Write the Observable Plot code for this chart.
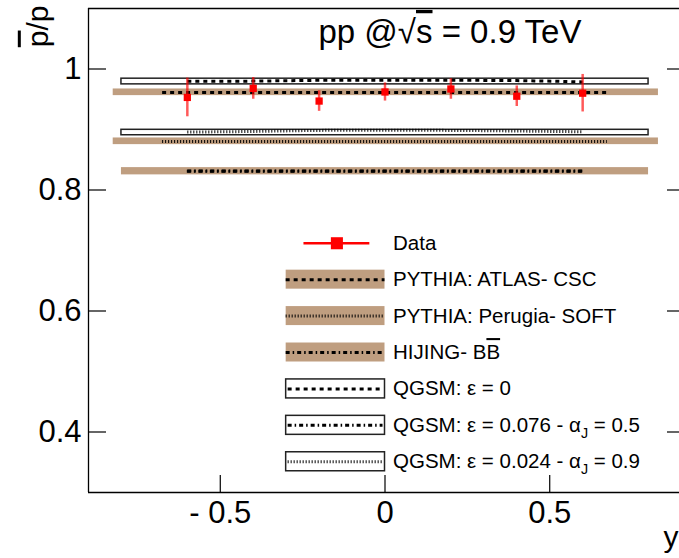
<!DOCTYPE html>
<html><head><meta charset="utf-8">
<script src="https://cdn.jsdelivr.net/npm/d3@7"></script>
<script src="https://cdn.jsdelivr.net/npm/@observablehq/plot@0.6"></script>
<style>
html,body{margin:0;padding:0;background:#fff;overflow:hidden}
svg{display:block;overflow:hidden}
</style>
</head><body><div id="chart"></div>
<script>
// ---- data ----
const xTicks = [-0.5, 0, 0.5];
const yTicks = [0.4, 0.6, 0.8, 1];

// measured p-bar/p vs rapidity
const rap = [-0.6, -0.4, -0.2, 0, 0.2, 0.4, 0.6];
const ratio = [0.953, 0.968, 0.947, 0.962, 0.967, 0.955, 0.960];
const ratioErr = [0.032, 0.018, 0.017, 0.015, 0.017, 0.017, 0.031];

// event generators (bands + central line)
const genNames = ["PYTHIA: ATLAS- CSC", "PYTHIA: Perugia- SOFT", "HIJING- B~{B}"];
const genValue = [0.961, 0.880, 0.831];
const genLo = [0.956, 0.875, 0.825];
const genHi = [0.967, 0.886, 0.837];
const genBandFrom = [-0.825, -0.825, -0.8];
const genBandTo = [0.83, 0.83, 0.8];
const genLineFrom = [-0.675, -0.675, -0.6];
const genLineTo = [0.675, 0.675, 0.6];

// QGSM calculations
const qgsmNames = ["QGSM: ε = 0", "QGSM: ε = 0.076 - α_{J} = 0.5", "QGSM: ε = 0.024 - α_{J} = 0.9"];
const qgsmRap = [-0.6, -0.4, -0.2, 0, 0.2, 0.4, 0.6];
const qgsmEps0 = [0.9797, 0.9800, 0.9813, 0.9815, 0.9813, 0.9808, 0.9787];
const qgsmEps076 = [0.8314, 0.8314, 0.8314, 0.8314, 0.8314, 0.8314, 0.8314];
const qgsmEps024 = [0.8958, 0.8968, 0.8985, 0.8987, 0.8985, 0.8975, 0.8962];
// open boxes visible in the frame (ε = 0 and ε = 0.024; the ε = 0.076 one lies under the HIJING band)
const qgsmBoxLo = [0.9746, 0.8905];
const qgsmBoxHi = [0.9840, 0.8995];
const qgsmBoxFrom = [-0.8, -0.8];
const qgsmBoxTo = [0.8, 0.8];

// ---- styles ----
const tan = "#bf9e80";
const genDash = ["4,4", "1,2", "4,3,1.5,3"];
const qgsmDash = ["4,4", "4,3,1.5,3", "1,2"];
const qgsmCurves = [qgsmEps0, qgsmEps076, qgsmEps024];

const W = 679, H = 558, mL = 88, mT = 8, mB = 66, mR = 0;
const fw = W - mL - mR, fh = H - mT - mB;

const marks = [];
const idx3 = [0, 1, 2];

// QGSM boxes (open)
marks.push(Plot.rect([0, 1], {
  x1: i => qgsmBoxFrom[i], x2: i => qgsmBoxTo[i],
  y1: i => qgsmBoxLo[i], y2: i => qgsmBoxHi[i],
  fill: "#fff", stroke: "#222", strokeWidth: 1.5
}));
// generator bands
marks.push(Plot.rect(idx3, {
  x1: i => genBandFrom[i], x2: i => genBandTo[i],
  y1: i => genLo[i], y2: i => genHi[i],
  fill: tan
}));
// generator central lines
idx3.forEach(k => {
  marks.push(Plot.ruleY([k], {
    y: i => genValue[i], x1: i => genLineFrom[i], x2: i => genLineTo[i],
    stroke: "#000", strokeWidth: 3, strokeDasharray: genDash[k], strokeLinecap: "butt"
  }));
});
// QGSM curves
idx3.forEach(k => {
  marks.push(Plot.line(qgsmRap, {
    x: d => d, y: (d, i) => qgsmCurves[k][i], curve: "natural",
    stroke: "#000", strokeWidth: 3, strokeDasharray: qgsmDash[k], strokeLinecap: "butt"
  }));
});
// data
marks.push(Plot.ruleX(rap, {
  x: d => d, y1: (d, i) => ratio[i] - ratioErr[i], y2: (d, i) => ratio[i] + ratioErr[i],
  stroke: "red", strokeOpacity: 0.65, strokeWidth: 2.5
}));
marks.push(Plot.dot(rap, {x: d => d, y: (d, i) => ratio[i], symbol: "square", r: 4.1, fill: "red"}));

// frame & ticks
marks.push(Plot.ruleX([-0.9], {x: d => d, stroke: "#000", strokeWidth: 1.3}));
marks.push(Plot.ruleY([0.3, 1.1], {y: d => d, stroke: "#000", strokeWidth: 1.3}));
marks.push(Plot.tickY(yTicks, {y: d => d, insetRight: fw - 18, stroke: "#000", strokeWidth: 1.2}));
marks.push(Plot.tickY(yTicks, {y: d => d, insetLeft: fw - 12, stroke: "#000", strokeWidth: 1.2}));
marks.push(Plot.tickX(xTicks, {x: d => d, insetTop: fh - 17, stroke: "#000", strokeWidth: 1.2}));

// ---- legend (in data coordinates) ----
const legTop = 0.712, legStep = 0.0602, legHalf = 0.0157;
const legX1 = -0.3, legX2 = 0.0;
const rowY = i => legTop - i * legStep;
// Data row
marks.push(Plot.ruleY([0], {y: rowY, x1: -0.246, x2: -0.046, stroke: "red", strokeWidth: 2.5}));
marks.push(Plot.dot([0], {x: () => -0.146, y: rowY, symbol: "square", r: 6.8, fill: "red"}));
// generator rows
idx3.forEach(k => {
  marks.push(Plot.rect([k], {x1: () => legX1, x2: () => legX2,
    y1: i => rowY(i + 1) - legHalf, y2: i => rowY(i + 1) + legHalf, fill: tan}));
  marks.push(Plot.ruleY([k], {y: i => rowY(i + 1), x1: () => legX1, x2: () => legX2,
    stroke: "#000", strokeWidth: 3, strokeDasharray: genDash[k], strokeLinecap: "butt"}));
});
// QGSM rows
idx3.forEach(k => {
  marks.push(Plot.rect([k], {x1: () => legX1, x2: () => legX2,
    y1: i => rowY(i + 4) - legHalf, y2: i => rowY(i + 4) + legHalf, fill: "#fff", stroke: "#222", strokeWidth: 1.5}));
  marks.push(Plot.ruleY([k], {y: i => rowY(i + 4), x1: () => legX1 + 0.006, x2: () => legX2 - 0.006,
    stroke: "#000", strokeWidth: 3, strokeDasharray: qgsmDash[k], strokeLinecap: "butt"}));
});
const legLabels = ["Data", ...genNames, ...qgsmNames];
marks.push(Plot.text(legLabels, {
  x: () => legX2, y: (d, i) => rowY(i), text: d => d, dx: 8,
  textAnchor: "start", fontSize: 20.5, fill: "#000"
}));

// title and axis titles
marks.push(Plot.text(["pp @√~{s} = 0.9 TeV"], {
  frameAnchor: "top-left", dx: 230, dy: 11, text: d => d, textAnchor: "start", fontSize: 33, fill: "#000"
}));
marks.push(Plot.text(["~{p}/p"], {
  frameAnchor: "top-left", dx: -62, dy: -3, rotate: -90, text: d => d, textAnchor: "end", fontSize: 30, fill: "#000"
}));
marks.push(Plot.text(["y"], {
  frameAnchor: "bottom-right", dx: -1, dy: 54, text: d => d, textAnchor: "end", fontSize: 30, fill: "#000"
}));

const svg = Plot.plot({
  width: W, height: H,
  marginLeft: mL, marginRight: mR, marginTop: mT, marginBottom: mB,
  x: {domain: [-0.9, 0.9], range: [88, 681], ticks: xTicks, tickSize: 0, tickPadding: 8,
      tickFormat: d => d < 0 ? "- " + Math.abs(d) : String(d), label: null},
  y: {domain: [0.3, 1.1], ticks: yTicks, tickSize: 0, tickPadding: 7, tickFormat: d => String(d), label: null},
  style: {fontFamily: "'Liberation Sans', Arial, Helvetica, sans-serif", fontSize: "31px", color: "#000", background: "#fff"},
  marks
});

// rich text: _{sub} subscript, ~{over} overline
const NS = "http://www.w3.org/2000/svg";
svg.querySelectorAll("text").forEach(el => {
  const s = el.textContent;
  if (!/[_~]\{/.test(s)) return;
  el.textContent = "";
  const re = /([_~])\{([^}]*)\}/g;
  let last = 0, m, pending = 0;
  const add = (txt, attrs) => {
    const t = document.createElementNS(NS, "tspan");
    t.textContent = txt;
    for (const k in attrs) t.setAttribute(k, attrs[k]);
    if (pending) { t.setAttribute("dy", (parseFloat(attrs.dy || 0) - pending)); pending = 0; }
    el.appendChild(t);
  };
  while ((m = re.exec(s))) {
    if (m.index > last) add(s.slice(last, m.index), {});
    if (m[1] === "_") { add(m[2], {"font-size": "70%", dy: 6}); pending = 6; }
    else add(m[2], {style: "text-decoration: overline"});
    last = re.lastIndex;
  }
  if (last < s.length) add(s.slice(last), {});
});

document.getElementById("chart").appendChild(svg);
</script>
</body></html>
